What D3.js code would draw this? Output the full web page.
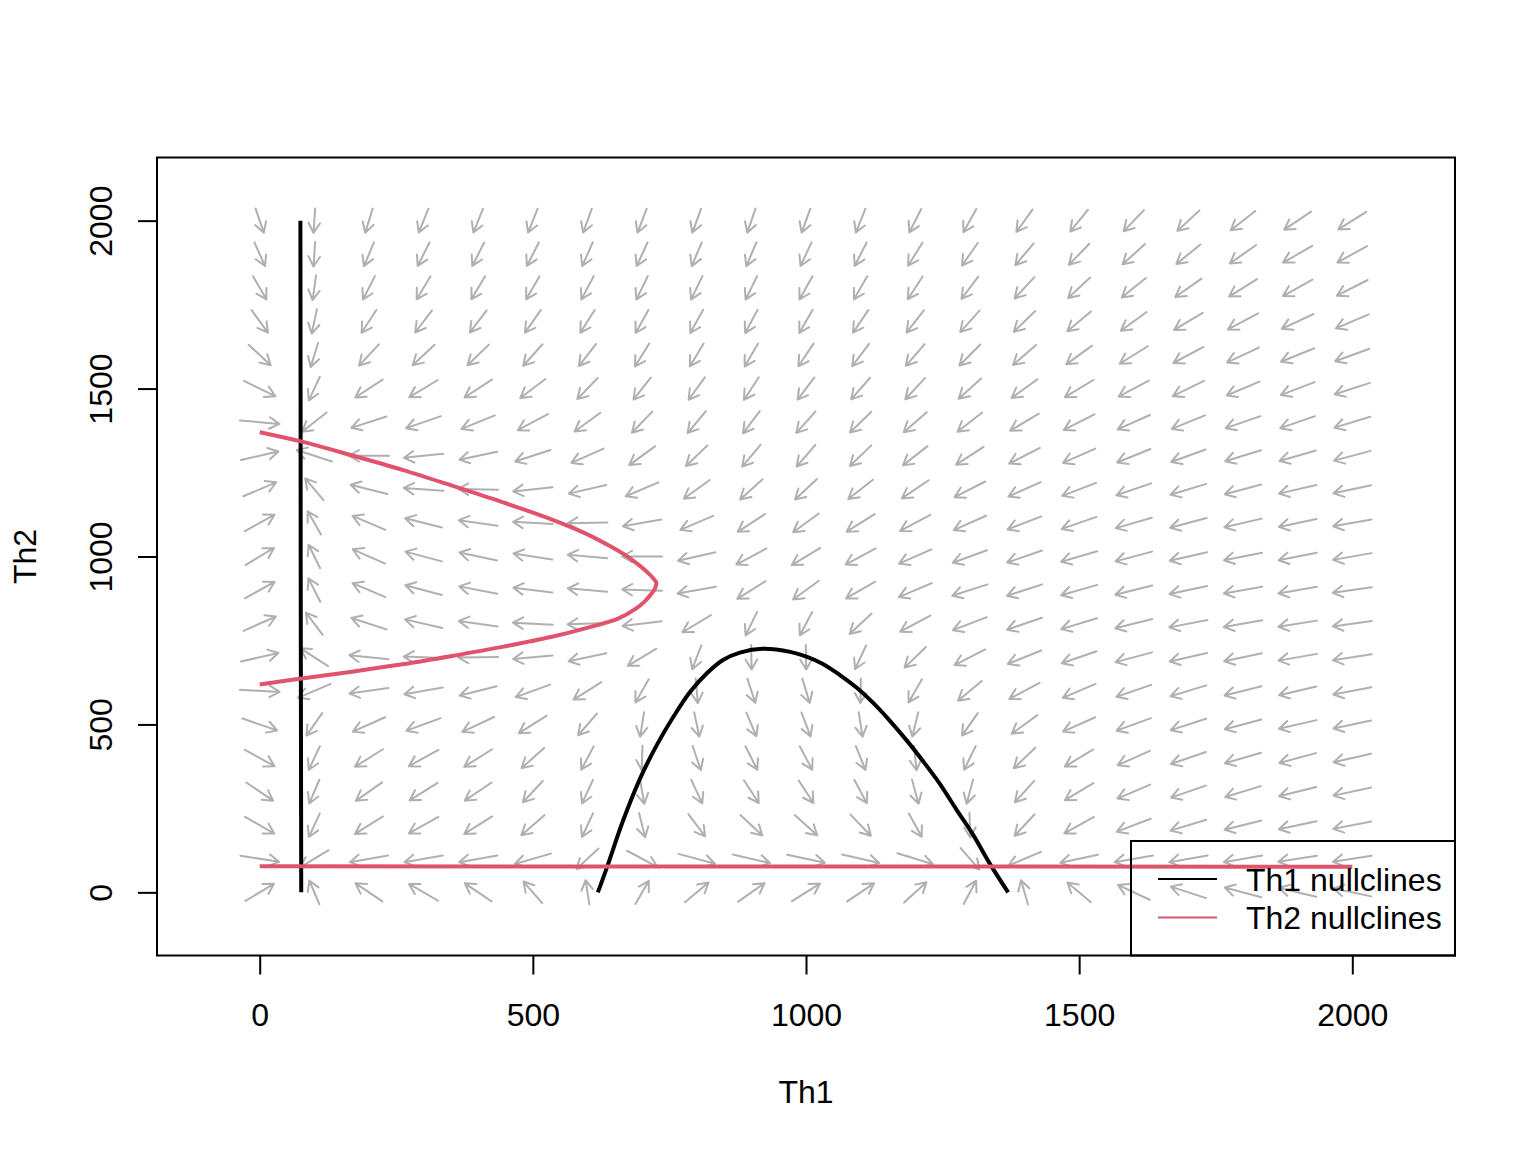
<!DOCTYPE html>
<html>
<head>
<meta charset="utf-8">
<script src="https://cdn.jsdelivr.net/npm/d3@7"></script>
<style>
  body { margin: 0; background: #ffffff; }
  svg { display: block; }
  text { font-family: "Liberation Sans", Arial, Helvetica, sans-serif; fill: #000; }
</style>
</head>
<body>
<svg id="chart" width="1536" height="1152"></svg>
<script>
// ---------------- data ----------------
const th1Levels = [0,100,200,300,400,500,600,700,800,900,1000,1100,1200,1300,1400,1500,1600,1700,1800,1900,2000];
const th2Levels = [2000,1900,1800,1700,1600,1500,1400,1300,1200,1100,1000,900,800,700,600,500,400,300,200,100,0];
// direction of each flow arrow as seen on the picture (degrees, counter-clockwise from east), one row per Th2 level
const flowAngles = [
  [-71,-94,-107,-112,-112,-112,-110,-111,-110,-109,-110,-112,-117,-119,-126,-129,-134,-137,-142,-146,-148],
  [-66,-94,-113,-117,-117,-117,-114,-115,-113,-113,-115,-117,-122,-125,-130,-134,-138,-141,-145,-150,-151],
  [-60,-98,-117,-121,-121,-120,-118,-116,-116,-116,-119,-120,-123,-127,-133,-137,-141,-145,-148,-151,-153],
  [-54,-102,-123,-127,-127,-125,-122,-119,-119,-118,-120,-124,-128,-132,-136,-140,-144,-149,-152,-155,-157],
  [-43,-107,-133,-137,-136,-132,-128,-122,-121,-120,-124,-127,-131,-135,-139,-144,-148,-152,-155,-158,-160],
  [-26,-115,-147,-149,-147,-143,-134,-128,-126,-123,-127,-131,-133,-138,-144,-149,-152,-154,-157,-159,-162],
  [-5,-142,-162,-161,-158,-152,-144,-134,-130,-127,-132,-136,-139,-142,-149,-153,-156,-158,-161,-161,-163],
  [13,162,180,-174,-168,-162,-156,-144,-136,-130,-131,-136,-142,-147,-153,-156,-158,-160,-163,-164,-165],
  [23,130,166,176,179,-174,-167,-157,-144,-138,-137,-142,-146,-153,-156,-159,-161,-163,-165,-167,-168],
  [29,120,157,166,172,177,-179,-170,-157,-147,-144,-148,-152,-156,-159,-161,-164,-165,-167,-168,-170],
  [31,116,156,165,168,171,175,180,-167,-152,-149,-152,-156,-160,-161,-164,-165,-167,-169,-169,-170],
  [29,117,157,165,169,173,175,178,-170,-148,-144,-150,-157,-162,-162,-164,-166,-168,-170,-170,-172],
  [24,127,162,167,172,177,-178,-173,-149,-116,-118,-137,-152,-159,-161,-163,-166,-169,-170,-171,-172],
  [13,147,174,178,-179,-175,-168,-149,-111,-89,-89,-115,-136,-153,-158,-161,-165,-167,-168,-170,-171],
  [-3,-157,-172,-170,-166,-160,-148,-120,-85,-72,-73,-91,-120,-140,-152,-157,-161,-163,-166,-167,-169],
  [-19,-125,-156,-160,-155,-148,-131,-99,-78,-67,-69,-81,-104,-125,-144,-156,-160,-162,-165,-167,-168],
  [-29,-115,-148,-151,-148,-138,-118,-92,-71,-63,-62,-68,-84,-116,-136,-149,-156,-161,-164,-165,-167],
  [-34,-113,-145,-148,-146,-133,-115,-80,-65,-57,-57,-62,-75,-105,-132,-149,-157,-161,-163,-166,-168],
  [-30,-115,-148,-151,-148,-139,-115,-76,-53,-43,-42,-46,-61,-88,-133,-151,-159,-163,-166,-168,-169],
  [-9,-149,-170,-170,-170,-164,-137,-28,-15,-13,-12,-13,-17,-49,-157,-168,-170,-170,-170,-171,-171],
  [31,113,146,150,146,131,99,60,40,35,32,34,42,62,106,140,155,162,165,167,168]
];

// nullclines as [Th1, Th2]
const th1NullVertical = [[76,0],[75.5,500],[75,1000],[74.8,1500],[74.5,2000]];
const th1NullHump = [[619,0],[636,76],[665,213],[696,338],[727,439],[757,522],[788,597],[819,653],[848,692],[879,714],[921,725],[971,716],[1002,701],[1031,680],[1062,647],[1093,609],[1123,564],[1154,510],[1185,451],[1214,391],[1245,323],[1276,245],[1306,171],[1337,84],[1370,0]];
const th2NullHorizontal = [[0,77.5],[1000,77],[2000,76.5]];
const th2NullParabola = [[0,1370],[77,1342],[169,1301],[261,1258],[352,1211],[444,1162],[535,1110],[596,1069],[641,1031],[674,999],[696,972],[711,951],[720,936],[726,921],[723,903],[715,885],[704,865],[688,844],[657,816],[596,786],[535,761],[444,731],[352,704],[261,679],[169,657],[77,637],[0,619]];

const xTicks = [0,500,1000,1500,2000];
const yTicks = [0,500,1000,1500,2000];
const xTitle = "Th1";
const yTitle = "Th2";
const legendLabels = ["Th1 nullclines","Th2 nullclines"];
const legendColors = ["#000000","#DF536B"];

// ---------------- drawing ----------------
const svg = d3.select("#chart");
const x = d3.scaleLinear().domain([-188, 2188]).range([157, 1455]);
const y = d3.scaleLinear().domain([-188, 2188]).range([955.5, 157.5]);

const kx = x(1) - x(0);
const ky = y(0) - y(1);
const arrowLen = 73; // in data units

const flowData = [];
th2Levels.forEach((t2, i) => th1Levels.forEach((t1, j) => flowData.push({t1, t2, a: flowAngles[i][j]})));

const gFlow = svg.append("g")
  .attr("fill", "none")
  .attr("stroke", "#b0b0b0")
  .attr("stroke-width", 2)
  .attr("stroke-linecap", "round")
  .attr("stroke-linejoin", "round");

gFlow.selectAll("path").data(flowData).join("path")
  .attr("d", d => {
    const r = d.a * Math.PI / 180;
    let dx = Math.cos(r) / kx, dy = Math.sin(r) / ky;
    const n = Math.hypot(dx, dy); dx /= n; dy /= n;
    const x0 = x(d.t1 - dx * arrowLen / 2), y0 = y(d.t2 - dy * arrowLen / 2);
    const x1 = x(d.t1 + dx * arrowLen / 2), y1 = y(d.t2 + dy * arrowLen / 2);
    const ang = Math.atan2(y1 - y0, x1 - x0);
    const h = 11.5, hb = Math.PI / 6;
    const b1x = x1 - h * Math.cos(ang - hb), b1y = y1 - h * Math.sin(ang - hb);
    const b2x = x1 - h * Math.cos(ang + hb), b2y = y1 - h * Math.sin(ang + hb);
    return `M${x0},${y0}L${x1},${y1}M${b1x},${b1y}L${x1},${y1}L${b2x},${b2y}`;
  });

const line = d3.line().x(d => x(d[0])).y(d => y(d[1])).curve(d3.curveCatmullRom.alpha(0.5));
const lineStraight = d3.line().x(d => x(d[0])).y(d => y(d[1]));

const gNull = svg.append("g").attr("fill", "none").attr("stroke-width", 4)
  .attr("stroke-linecap", "butt").attr("stroke-linejoin", "round");
gNull.append("path").attr("d", lineStraight(th1NullVertical)).attr("stroke", legendColors[0]);
gNull.append("path").attr("d", line(th1NullHump)).attr("stroke", legendColors[0]);
gNull.append("path").attr("d", lineStraight(th2NullHorizontal)).attr("stroke", legendColors[1]);
gNull.append("path").attr("d", line(th2NullParabola)).attr("stroke", legendColors[1]);

// plot box
svg.append("rect")
  .attr("x", x.range()[0]).attr("y", y.range()[1])
  .attr("width", x.range()[1] - x.range()[0])
  .attr("height", y.range()[0] - y.range()[1])
  .attr("fill", "none").attr("stroke", "#000").attr("stroke-width", 2);

// x axis
const xAxis = d3.axisBottom(x).tickValues(xTicks).tickSize(19).tickPadding(29).tickFormat(d3.format("d"));
const gx = svg.append("g").attr("transform", `translate(0,${y.range()[0]})`).call(xAxis);
gx.select(".domain").remove();
gx.selectAll(".tick line").attr("stroke", "#000").attr("stroke-width", 2);
gx.selectAll(".tick text").attr("font-size", 32).attr("font-family", '"Liberation Sans", Arial, sans-serif').attr("fill", "#000");

// y axis
const yAxis = d3.axisLeft(y).tickValues(yTicks).tickSize(19).tickFormat(d3.format("d"));
const gy = svg.append("g").attr("transform", `translate(${x.range()[0]},0)`).call(yAxis);
gy.select(".domain").remove();
gy.selectAll(".tick line").attr("stroke", "#000").attr("stroke-width", 2);
gy.selectAll(".tick text")
  .attr("font-size", 32).attr("font-family", '"Liberation Sans", Arial, sans-serif').attr("fill", "#000")
  .attr("x", null).attr("dy", null)
  .attr("text-anchor", "middle")
  .attr("transform", "translate(-45,0) rotate(-90)")
  .attr("y", 0);

// axis titles
svg.append("text").attr("x", (x.range()[0] + x.range()[1]) / 2).attr("y", 1103)
  .attr("text-anchor", "middle").attr("font-size", 32).text(xTitle);
svg.append("text")
  .attr("transform", `translate(36,${(y.range()[0] + y.range()[1]) / 2}) rotate(-90)`)
  .attr("text-anchor", "middle").attr("font-size", 32).text(yTitle);

// legend
const lg = svg.append("g");
lg.append("rect").attr("x", 1131).attr("y", 841).attr("width", 1455 - 1131).attr("height", 955.5 - 841)
  .attr("fill", "none").attr("stroke", "#000").attr("stroke-width", 2);
legendLabels.forEach((lab, i) => {
  const yy = 879 + i * 38.5;
  lg.append("line").attr("x1", 1158).attr("x2", 1217).attr("y1", yy).attr("y2", yy)
    .attr("stroke", legendColors[i]).attr("stroke-width", 2);
  lg.append("text").attr("x", 1246).attr("y", yy + 11.5).attr("font-size", 32).text(lab);
});
</script>
</body>
</html>
